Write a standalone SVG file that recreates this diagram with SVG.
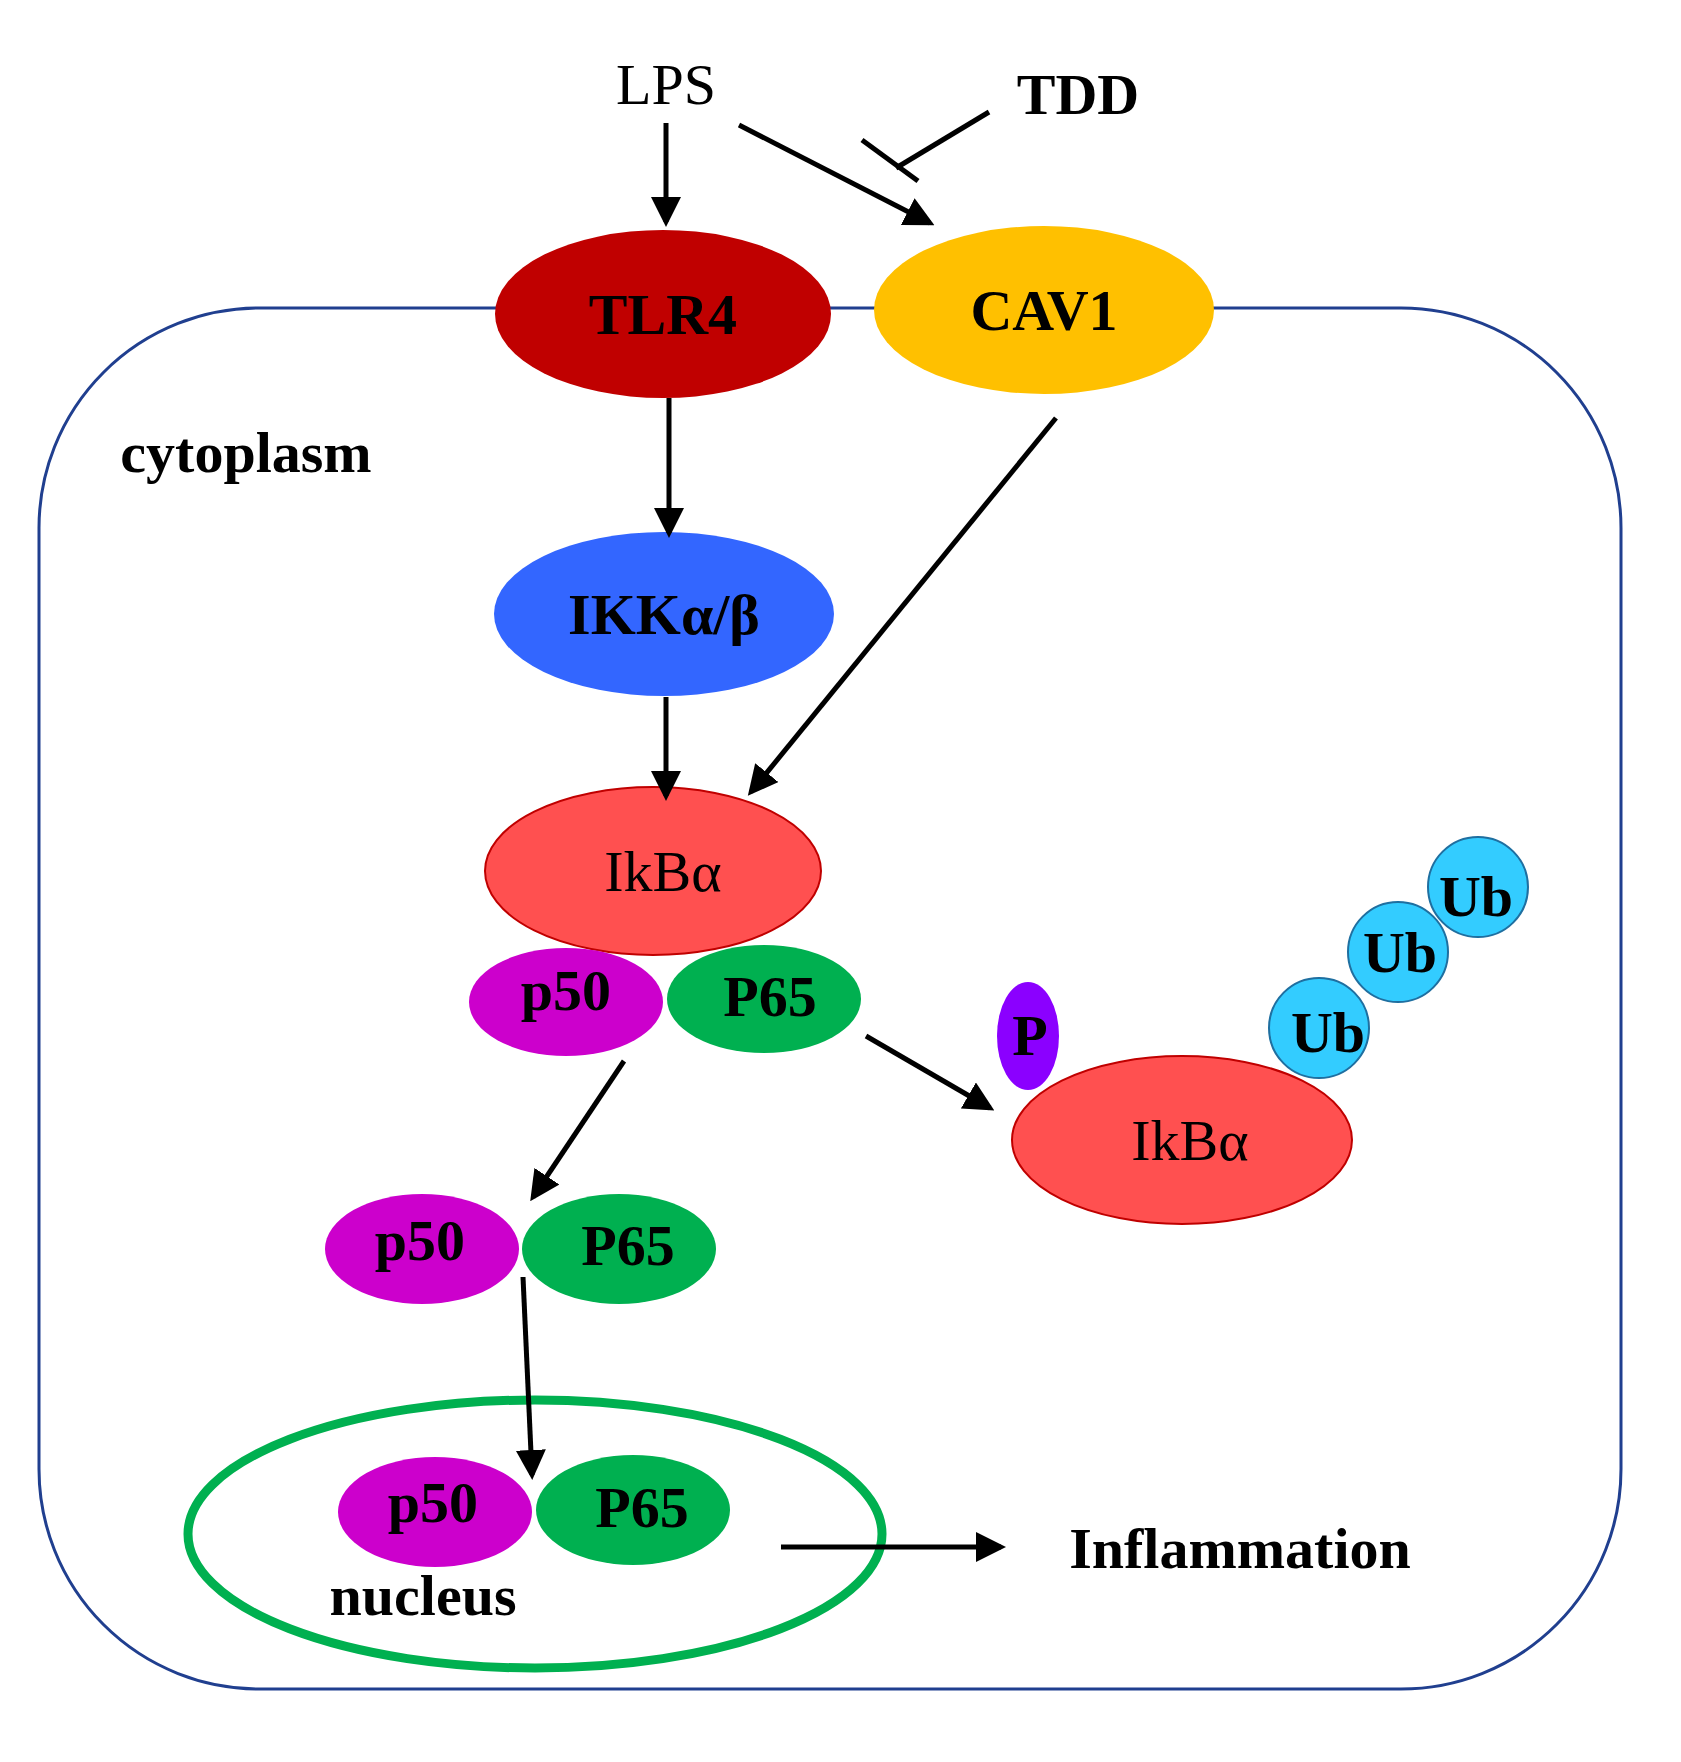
<svg xmlns="http://www.w3.org/2000/svg" width="1681" height="1762" viewBox="0 0 1681 1762">
<style>
text{font-family:"Liberation Serif","Times New Roman",serif;text-anchor:middle;font-size:58px}
.b{font-weight:bold}
.ln{stroke:#000;stroke-width:5;fill:none}
.p50{fill:#CC00CC}.p65{fill:#00B050}
</style>
<defs><marker id="ah" markerWidth="6" markerHeight="6" refX="5" refY="3" orient="auto" markerUnits="strokeWidth"><path d="M0,0L6,3L0,6z" fill="#000"/></marker></defs>
<rect width="1681" height="1762" fill="#fff"/>
<rect id="cell" x="39" y="308" width="1582" height="1381" rx="220" fill="none" stroke="#203F8F" stroke-width="3"/>
<text x="246" y="472" class="b" font-size="52">cytoplasm</text>
<g id="lps"><text x="666" y="104">LPS</text></g>
<g id="tdd"><text x="1078" y="114" class="b">TDD</text></g>
<g id="tlr4"><ellipse cx="663" cy="314" rx="168" ry="84" fill="#C00000"/><text x="663" y="334" class="b">TLR4</text></g>
<g id="cav1"><ellipse cx="1044" cy="310" rx="170" ry="84" fill="#FFC000"/><text x="1044" y="330" class="b">CAV1</text></g>
<g id="ikk"><ellipse cx="664" cy="614" rx="170" ry="82" fill="#3366FF"/><text x="664" y="634" class="b">IKKα/β</text></g>
<g id="ikba1"><ellipse cx="653" cy="871" rx="168" ry="84" fill="#FF5050" stroke="#C00000" stroke-width="2"/><text x="663" y="891">IkBα</text></g>
<g id="p50a"><ellipse cx="566" cy="1002" rx="97" ry="54" class="p50"/><text x="566" y="1010" class="b">p50</text></g>
<g id="p65a"><ellipse cx="764" cy="999" rx="97" ry="54" class="p65"/><text x="770" y="1016" class="b">P65</text></g>
<g id="ikba2"><ellipse cx="1182" cy="1140" rx="170" ry="84" fill="#FF5050" stroke="#C00000" stroke-width="2"/><text x="1190" y="1160">IkBα</text></g>
<g id="phos"><ellipse cx="1028" cy="1036" rx="31" ry="54" fill="#8B00FF"/><text x="1030" y="1055" class="b">P</text></g>
<g id="ub1"><circle cx="1319" cy="1028" r="50" fill="#33CCFF" stroke="#1F6FA0" stroke-width="2"/><text x="1328" y="1052" class="b">Ub</text></g>
<g id="ub2"><circle cx="1398" cy="952" r="50" fill="#33CCFF" stroke="#1F6FA0" stroke-width="2"/><text x="1400" y="972" class="b">Ub</text></g>
<g id="ub3"><circle cx="1478" cy="887" r="50" fill="#33CCFF" stroke="#1F6FA0" stroke-width="2"/><text x="1476" y="916" class="b">Ub</text></g>
<g id="p50b"><ellipse cx="422" cy="1249" rx="97" ry="55" class="p50"/><text x="420" y="1260" class="b">p50</text></g>
<g id="p65b"><ellipse cx="619" cy="1249" rx="97" ry="55" class="p65"/><text x="628" y="1265" class="b">P65</text></g>
<g id="nucleus"><ellipse cx="535" cy="1534" rx="347" ry="134" fill="none" stroke="#00B050" stroke-width="9"/><text x="423" y="1615" class="b" font-size="52">nucleus</text></g>
<g id="p50c"><ellipse cx="435" cy="1512" rx="97" ry="55" class="p50"/><text x="433" y="1522" class="b">p50</text></g>
<g id="p65c"><ellipse cx="633" cy="1510" rx="97" ry="55" class="p65"/><text x="642" y="1527" class="b">P65</text></g>
<g id="infl"><text x="1240" y="1568" class="b">Inflammation</text></g>
<g id="connectors">
<line class="ln" x1="666" y1="123" x2="666" y2="222" marker-end="url(#ah)"/>
<line class="ln" x1="739" y1="125" x2="930" y2="223" marker-end="url(#ah)"/>
<line class="ln" x1="989" y1="112" x2="896" y2="168"/>
<line class="ln" x1="862" y1="140" x2="918" y2="181"/>
<line class="ln" x1="669" y1="398" x2="669" y2="533" marker-end="url(#ah)"/>
<line class="ln" x1="666" y1="697" x2="666" y2="796" marker-end="url(#ah)"/>
<line class="ln" x1="1056" y1="418" x2="751" y2="792" marker-end="url(#ah)"/>
<line class="ln" x1="624" y1="1061" x2="533" y2="1197" marker-end="url(#ah)"/>
<line class="ln" x1="866" y1="1036" x2="990" y2="1108" marker-end="url(#ah)"/>
<line class="ln" x1="523" y1="1277" x2="532" y2="1475" marker-end="url(#ah)"/>
<line class="ln" x1="781" y1="1547" x2="1001" y2="1547" marker-end="url(#ah)"/>
</g>
</svg>
